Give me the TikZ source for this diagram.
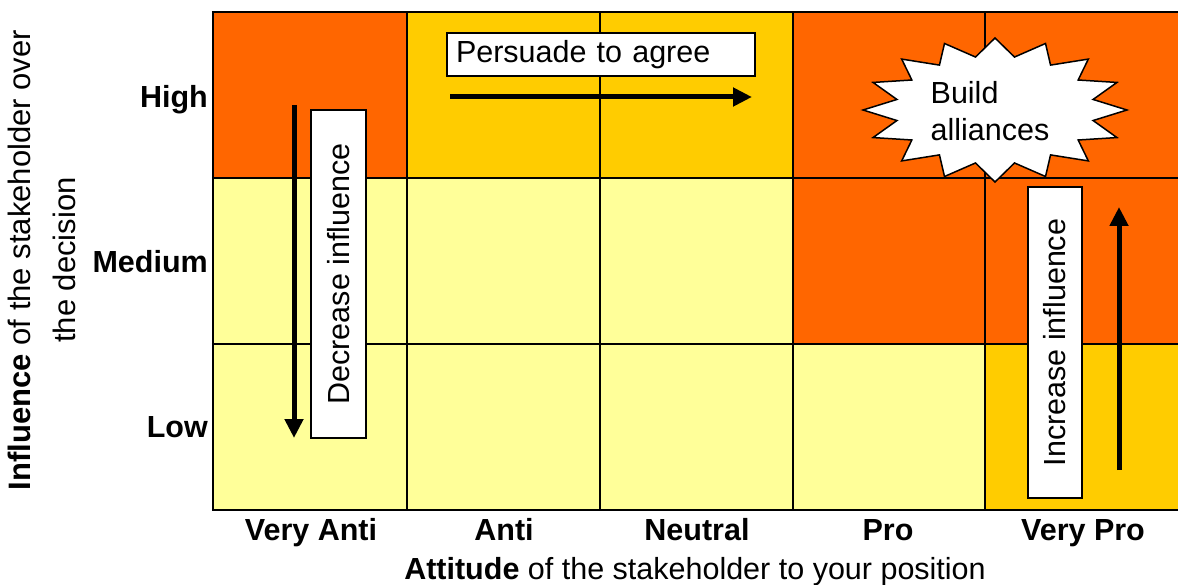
\documentclass[tikz,border=0pt]{standalone}
\usepackage{fontspec}
\setmainfont{Liberation Sans}
\usetikzlibrary{arrows.meta}
\definecolor{hiorange}{HTML}{FF6600}
\definecolor{midgold}{HTML}{FFCC00}
\definecolor{paleyel}{HTML}{FFFF99}
\tikzset{
  lbl/.style={font=\fontsize{30.5}{35}\selectfont\bfseries, inner sep=0pt},
  txt/.style={font=\fontsize{30.5}{37}\selectfont},
  tbox/.style={draw=black, line width=1.5pt, fill=white, txt},
  bigarrow/.style={line width=5pt, -{Triangle[length=19pt,width=18pt]}},
  gridline/.style={line width=2.2pt, black}
}
\begin{document}
\begin{tikzpicture}[x=1pt,y=-1pt]
\useasboundingbox (0,0) rectangle (1178,585);
% cells: High row
\fill[hiorange] (213,12) rectangle (407,178);
\fill[midgold]  (407,12) rectangle (793,178);
\fill[hiorange] (793,12) rectangle (1190,178);
% Medium row
\fill[paleyel]  (213,178) rectangle (793,344);
\fill[hiorange] (793,178) rectangle (1190,344);
% Low row
\fill[paleyel]  (213,344) rectangle (985,510);
\fill[midgold]  (985,344) rectangle (1190,510);
% grid
\foreach \yy in {12,178,344,510} \draw[gridline] (211.9,\yy) -- (1190,\yy);
\foreach \xx in {213,407,600,793,985} \draw[gridline] (\xx,12) -- (\xx,510);
% persuade
\node[tbox, text width=290pt, inner xsep=9pt, minimum height=43pt, align=left] (persuade) at (601,54.5) {Persuade to agree};
\coordinate (pa1) at (450,97);
\coordinate (pa2) at (752,97);
\draw[bigarrow] (pa1) -- (pa2);
% decrease
\node[tbox, rotate=90, minimum width=328pt, minimum height=55pt, inner sep=0pt] (dec) at (338.5,274) {Decrease influence};
\coordinate (da1) at (294,105);
\coordinate (da2) at (294,438);
\draw[bigarrow] (da1) -- (da2);
% increase
\node[tbox, rotate=90, minimum width=311pt, minimum height=54pt, inner sep=0pt] (inc) at (1055,342.5) {Increase influence};
\coordinate (ia1) at (1119,470);
\coordinate (ia2) at (1119,207);
\draw[bigarrow] (ia1) -- (ia2);
% starburst
\draw[fill=white, line width=1.5pt] plot[samples at={0,...,31}, variable=\k]
  ({995+(116+16*cos(\k*180))*cos(\k*11.25)}, {110+(63+9*cos(\k*180))*sin(\k*11.25)}) -- cycle;
\node[txt, align=left] (burst) at (990,111) {Build\\alliances};
% row labels
\node[lbl, anchor=base east] (high) at (208,107.5) {High};
\node[lbl, anchor=base east] (med) at (208,273) {Medium};
\node[lbl, anchor=base east] (low) at (208,437) {Low};
% column labels
\node[lbl, anchor=base] (c1) at (311,540) {Very Anti};
\node[lbl, anchor=base] (c2) at (504,540) {Anti};
\node[lbl, anchor=base] (c3) at (697,540) {Neutral};
\node[lbl, anchor=base] (c4) at (888,540) {Pro};
\node[lbl, anchor=base] (c5) at (1083,540) {Very Pro};
% axis titles
\node[txt, inner sep=0pt, anchor=base] (xt) at (695,579) {\textbf{Attitude} of the stakeholder to your position};
\node[font=\fontsize{31}{45}\selectfont, rotate=90, align=center, inner sep=0pt] (yt) at (42,260) {\textbf{Influence} of the stakeholder over\\the decision};
\end{tikzpicture}
\end{document}
